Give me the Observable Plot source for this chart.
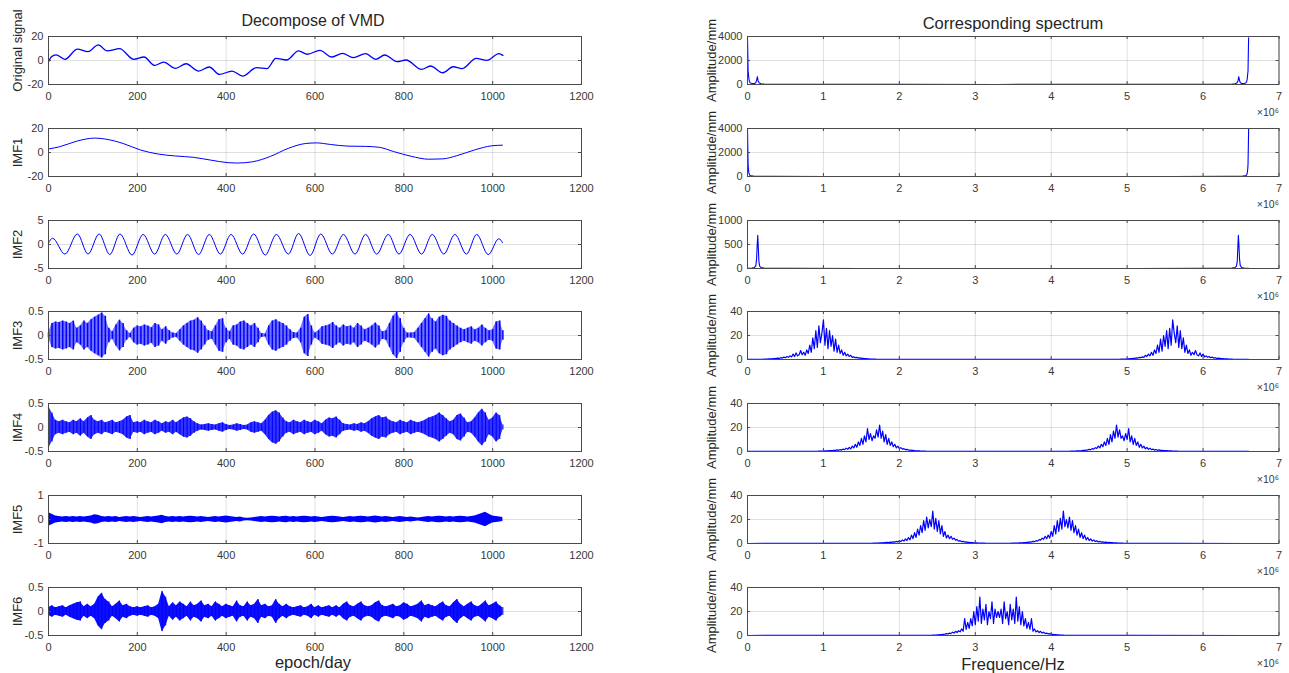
<!DOCTYPE html>
<html>
<head>
<meta charset="utf-8">
<script src="https://cdn.jsdelivr.net/npm/d3@7"></script>
<script src="https://cdn.jsdelivr.net/npm/@observablehq/plot@0.6"></script>
<style>
  body { margin: 0; background: #fff; }
  #fig { position: relative; width: 1289px; height: 673px; overflow: hidden; background: #fff;
         font-family: "Liberation Sans", Arial, Helvetica, sans-serif; color: #262626; }
  #fig svg { position: absolute; background: transparent; overflow: visible; }
  .cap { position: absolute; line-height: 1; white-space: nowrap; transform: translateX(-50%); }
</style>
</head>
<body>
<div id="fig"></div>
<script>
// ---------- time-domain series (epoch in days) ----------
// original signal: turning points of the record
const origDay = [0, 6, 17, 37, 65, 89, 112, 132, 160, 192, 215, 239, 259, 286, 310, 338, 362, 385, 413, 437,
  468, 492, 512, 536, 563, 583, 611, 638, 662, 686, 714, 737, 757, 785, 805, 840, 860, 888, 911, 931,
  963, 987, 1014, 1023];
const origVal = [-1, 2.9, 4.7, 1, 9.4, 7.4, 13, 8, 9.9, 1, 2.9, -4.1, -1.3, -6.6, -2.7, -8.8, -5.4, -11.6, -8.8, -13,
  -6, -6.8, 1.8, 0.4, 8, 5.2, 8.5, 2.9, 6, 2.4, 5.7, 1, 4.6, -1, 0.4, -7.4, -4.6, -10.2, -5.2, -6.8,
  1.8, 0.1, 5.7, 4.3];

// IMF1: slow trend
const imf1Day = [0, 25, 65, 104, 128, 168, 207, 247, 286, 326, 366, 405, 425, 460, 500, 540, 579, 603, 635, 674,
  714, 745, 777, 817, 856, 888, 919, 959, 998, 1022];
const imf1Val = [2.9, 4.8, 9.6, 12.0, 11.2, 7.5, 2.1, -1.3, -2.9, -4.0, -6.4, -8.5, -8.8, -7.7, -3.2, 3.5, 7.5, 8.0, 6.7, 5.3,
  5.1, 4.3, 0.8, -3.2, -5.6, -5.3, -2.7, 2.1, 5.6, 6.1];

// IMF2: ~50-day oscillation, peaks and troughs
const imf2Day = [0, 9, 37, 65, 89, 114, 138, 161, 188, 213, 239, 263, 289, 313, 338, 362, 387, 411, 437, 462,
  488, 513, 540, 563, 589, 613, 639, 664, 690, 714, 739, 765, 789, 814, 840, 864, 890, 915, 941, 964,
  990, 1014, 1022];
const imf2Val = [0.3, 1.3, -2.0, 2.2, -2.0, 2.2, -2.1, 2.2, -2.2, 2.1, -2.0, 2.1, -2.0, 2.1, -2.1, 2.1, -2.0, 2.1, -2.0, 2.2,
  -2.2, 2.1, -2.0, 2.3, -2.3, 2.2, -2.0, 2.1, -2.0, 2.1, -2.0, 2.1, -2.0, 2.1, -2.0, 2.1, -2.0, 2.1, -2.0, 2.1,
  -2.1, 1.2, 0.4];

// IMF3..IMF6: oscillation envelope (half peak-to-peak), one value every ENV_STEP days
const ENV_STEP = 8;
const imf3Env = [
  0.05, 0.25, 0.28, 0.27, 0.3, 0.28, 0.25, 0.3, 0.15, 0.2, 0.3, 0.25, 0.33, 0.38, 0.42, 0.47,
  0.4, 0.15, 0.08, 0.22, 0.32, 0.25, 0.1, 0.04, 0.15, 0.2, 0.18, 0.22, 0.2, 0.16, 0.25, 0.22,
  0.12, 0.18, 0.1, 0.05, 0.04, 0.12, 0.2, 0.25, 0.3, 0.32, 0.37, 0.3, 0.2, 0.1, 0.08, 0.2,
  0.33, 0.35, 0.15, 0.08, 0.2, 0.22, 0.28, 0.3, 0.25, 0.2, 0.25, 0.15, 0.04, 0.03, 0.2, 0.3,
  0.33, 0.28, 0.25, 0.2, 0.12, 0.06, 0.05, 0.15, 0.38, 0.44, 0.2, 0.05, 0.1, 0.18, 0.2, 0.22,
  0.27, 0.2, 0.15, 0.22, 0.18, 0.2, 0.15, 0.25, 0.2, 0.12, 0.15, 0.2, 0.26, 0.2, 0.08, 0.1,
  0.25, 0.4, 0.48, 0.35, 0.15, 0.05, 0.05, 0.06, 0.15, 0.25, 0.35, 0.45, 0.35, 0.28, 0.38, 0.42,
  0.4, 0.3, 0.25, 0.2, 0.15, 0.12, 0.15, 0.18, 0.12, 0.15, 0.22, 0.15, 0.1, 0.12, 0.28, 0.3,
  0.1];
const imf4Env = [
  0.45, 0.3, 0.15, 0.12, 0.15, 0.12, 0.1, 0.15, 0.12, 0.18, 0.12, 0.2, 0.25, 0.15, 0.12, 0.15,
  0.1, 0.12, 0.15, 0.1, 0.12, 0.15, 0.22, 0.25, 0.1, 0.12, 0.1, 0.15, 0.12, 0.1, 0.15, 0.12,
  0.08, 0.12, 0.1, 0.15, 0.1, 0.15, 0.2, 0.22, 0.18, 0.12, 0.08, 0.05, 0.06, 0.08, 0.06, 0.05,
  0.08, 0.1, 0.06, 0.04, 0.05, 0.08, 0.06, 0.04, 0.05, 0.1, 0.12, 0.1, 0.08, 0.15, 0.25, 0.32,
  0.35, 0.3, 0.2, 0.12, 0.1, 0.15, 0.12, 0.1, 0.15, 0.12, 0.1, 0.15, 0.12, 0.08, 0.15, 0.2,
  0.18, 0.22, 0.15, 0.08, 0.06, 0.05, 0.08, 0.06, 0.1, 0.08, 0.12, 0.18, 0.22, 0.25, 0.2, 0.22,
  0.15, 0.12, 0.1, 0.15, 0.12, 0.1, 0.15, 0.12, 0.1, 0.12, 0.15, 0.2, 0.22, 0.25, 0.3, 0.25,
  0.18, 0.12, 0.15, 0.25, 0.28, 0.2, 0.1, 0.12, 0.2, 0.3, 0.38, 0.3, 0.15, 0.2, 0.3, 0.25,
  0.05];
const imf5Env = [
  0.28, 0.22, 0.15, 0.12, 0.1, 0.12, 0.1, 0.12, 0.1, 0.13, 0.1, 0.12, 0.15, 0.2, 0.18, 0.12,
  0.1, 0.12, 0.1, 0.12, 0.08, 0.1, 0.12, 0.1, 0.12, 0.1, 0.08, 0.1, 0.12, 0.1, 0.12, 0.15,
  0.18, 0.12, 0.1, 0.12, 0.1, 0.12, 0.1, 0.12, 0.14, 0.12, 0.1, 0.12, 0.1, 0.08, 0.1, 0.12,
  0.1, 0.12, 0.15, 0.12, 0.1, 0.08, 0.1, 0.06, 0.05, 0.06, 0.08, 0.1, 0.12, 0.1, 0.12, 0.14,
  0.12, 0.1, 0.12, 0.14, 0.1, 0.12, 0.1, 0.12, 0.14, 0.12, 0.1, 0.12, 0.1, 0.08, 0.1, 0.12,
  0.14, 0.12, 0.1, 0.08, 0.1, 0.12, 0.1, 0.12, 0.14, 0.12, 0.1, 0.12, 0.15, 0.12, 0.1, 0.12,
  0.1, 0.08, 0.1, 0.12, 0.1, 0.08, 0.1, 0.08, 0.06, 0.08, 0.1, 0.12, 0.1, 0.12, 0.14, 0.12,
  0.1, 0.12, 0.1, 0.12, 0.14, 0.12, 0.1, 0.12, 0.15, 0.2, 0.25, 0.3, 0.22, 0.15, 0.12, 0.1,
  0.08];
const imf6Env = [
  0.08, 0.12, 0.08, 0.1, 0.12, 0.08, 0.12, 0.15, 0.18, 0.2, 0.1, 0.15, 0.1, 0.15, 0.3, 0.38,
  0.25, 0.2, 0.1, 0.15, 0.22, 0.12, 0.15, 0.1, 0.08, 0.1, 0.08, 0.1, 0.12, 0.08, 0.1, 0.15,
  0.42, 0.3, 0.1, 0.18, 0.12, 0.2, 0.15, 0.1, 0.2, 0.12, 0.15, 0.22, 0.12, 0.15, 0.1, 0.2,
  0.15, 0.1, 0.15, 0.12, 0.1, 0.22, 0.12, 0.1, 0.2, 0.12, 0.15, 0.25, 0.12, 0.15, 0.1, 0.12,
  0.25, 0.15, 0.1, 0.15, 0.1, 0.08, 0.1, 0.12, 0.08, 0.1, 0.15, 0.08, 0.12, 0.08, 0.1, 0.12,
  0.08, 0.12, 0.08, 0.15, 0.2, 0.12, 0.1, 0.15, 0.2, 0.12, 0.1, 0.12, 0.18, 0.22, 0.12, 0.1,
  0.12, 0.15, 0.1, 0.12, 0.18, 0.15, 0.1, 0.12, 0.15, 0.22, 0.12, 0.15, 0.12, 0.1, 0.15, 0.2,
  0.12, 0.1, 0.18, 0.25, 0.15, 0.1, 0.15, 0.2, 0.12, 0.1, 0.15, 0.22, 0.12, 0.15, 0.2, 0.12,
  0.08];

// ---------- spectra (frequency in units of 1e6 Hz) ----------
// two-sided amplitude spectrum; the upper half mirrors the lower half about FS/2
const FS = 6.6;
const spec0F = [0, 0.004, 0.008, 0.012, 0.018, 0.025, 0.035, 0.05, 0.07, 0.09, 0.11, 0.12, 0.13, 0.14, 0.155, 0.18, 0.22, 0.3, 0.5, 1.0, 2.0, 3.3];
const spec0A = [3900, 2600, 1100, 900, 500, 250, 150, 100, 70, 80, 150, 350, 650, 300, 120, 60, 40, 25, 15, 10, 8, 6];
const spec1F = [0, 0.004, 0.008, 0.012, 0.018, 0.025, 0.035, 0.05, 0.08, 0.15, 0.3, 1.0, 3.3];
const spec1A = [3950, 2400, 1000, 600, 300, 150, 80, 50, 30, 15, 8, 4, 2];
const spec2F = [0, 0.03, 0.06, 0.09, 0.11, 0.12, 0.128, 0.135, 0.142, 0.15, 0.16, 0.18, 0.22, 0.3, 0.6, 1.5, 3.3];
const spec2A = [2, 4, 8, 20, 60, 200, 500, 690, 450, 150, 50, 20, 8, 4, 2, 1, 0.5];

// narrow-band spectra: densely sampled hump (BAND_STEP apart) plus quiet floor around it
const BAND_STEP = 0.02;
const spec3Lead = [[0, 0.05], [0.1, 0.1]], spec3Start = 0.2, spec3Trail = [[2.5, 0.05], [3.3, 0.03]];
const spec3Band = [
  0.2, 0.3, 0.3, 0.4, 0.5, 0.6, 0.5, 0.8, 0.7, 1.0,
  1.2, 0.9, 1.5, 1.2, 2.0, 1.5, 2.5, 1.8, 3.0, 2.2,
  4.5, 2.5, 5.5, 3.0, 4.0, 7.5, 4.0, 6.0, 3.5, 8.0,
  5.0, 12, 6, 18, 9, 24, 10, 28, 14, 22,
  33, 12, 26, 9, 24, 11, 20, 7, 17, 6,
  12, 5, 8, 3.5, 6, 3, 4.5, 2.5, 3.5, 1.8,
  2.2, 1.5, 1.8, 1.2, 1.3, 1.0, 1.0, 0.8, 0.7, 0.6,
  0.5, 0.4, 0.4, 0.3, 0.3, 0.2, 0.2, 0.2, 0.1, 0.1,
  0.1];
const spec4Lead = [[0, 0.03], [0.5, 0.1]], spec4Start = 0.9, spec4Trail = [[3.0, 0.05], [3.3, 0.03]];
const spec4Band = [
  0.2, 0.2, 0.3, 0.3, 0.4, 0.4, 0.5, 0.5, 0.6, 0.7,
  0.8, 0.7, 1.0, 0.9, 1.3, 1.0, 1.6, 1.2, 2.0, 1.5,
  2.8, 1.8, 3.5, 2.2, 4.5, 3.0, 6.0, 3.5, 8.0, 5.0,
  11, 6, 13, 8, 19, 10, 15, 9, 13, 11,
  18, 12, 22, 11, 17, 8, 14, 6, 11, 5,
  8, 4, 6, 3, 4.5, 2.5, 3.2, 2.0, 2.4, 1.5,
  1.8, 1.2, 1.2, 0.9, 0.9, 0.7, 0.6, 0.5, 0.5, 0.4,
  0.3, 0.3, 0.3, 0.2, 0.2, 0.2, 0.1, 0.1, 0.1, 0.1,
  0.1];
const spec5Lead = [[0, 0.02], [1.0, 0.05]], spec5Start = 1.6, spec5Trail = [[3.3, 0.2]];
const spec5Band = [
  0.1, 0.2, 0.2, 0.3, 0.3, 0.4, 0.4, 0.5, 0.5, 0.6,
  0.7, 0.7, 0.9, 0.8, 1.1, 1.0, 1.4, 1.1, 1.8, 1.3,
  2.2, 1.6, 3.0, 2.0, 3.8, 2.5, 5.0, 3.0, 7.0, 4.0,
  9, 5, 12, 7, 15, 9, 19, 11, 22, 13,
  20, 14, 27, 12, 21, 10, 19, 8, 15, 6,
  10, 4.5, 7, 4, 6, 3.5, 4.5, 2.8, 3.2, 2.0,
  2.4, 1.5, 1.8, 1.2, 1.3, 1.0, 1.0, 0.8, 0.7, 0.6,
  0.5, 0.5, 0.4, 0.4, 0.3, 0.3, 0.3, 0.2, 0.2, 0.2,
  0.2];
const spec6Lead = [[0, 0.02], [1.5, 0.05], [2.0, 0.1]], spec6Start = 2.4, spec6Trail = [];
const spec6Band = [
  0.2, 0.2, 0.3, 0.3, 0.4, 0.5, 0.6, 0.7, 0.8, 1.0,
  1.2, 1.5, 1.3, 2.0, 1.6, 2.8, 2.0, 3.5, 2.5, 4.0,
  3.0, 5.5, 3.5, 14, 5, 11, 6, 14, 8, 20,
  9, 24, 12, 32, 10, 22, 13, 26, 9, 20,
  14, 28, 10, 22, 15, 20];

// ---------- helpers ----------
const BLUE = "#0000ff";
const AXIS = "#4a4a4a";

const pairs = (xs, ys) => xs.map((x, i) => ({x, y: ys[i]}));
const envelope = (env) => env.map((a, i) => ({x: Math.min(i * ENV_STEP, 1023), a}));
const halfSpectrum = (lead, start, band, trail) => [
  ...lead.map(([x, y]) => ({x, y})),
  ...band.map((y, i) => ({x: +(start + i * BAND_STEP).toFixed(3), y})),
  ...trail.map(([x, y]) => ({x, y}))
];
const mirrored = (half) => half.concat(
  half.filter(p => p.x < FS / 2 - 1e-9).map(p => ({x: FS - p.x, y: p.y})).reverse()
);

const fig = document.getElementById("fig");
const FH = 48, MT = 4, MB = 36;
const ROW0 = 36, PITCH = 91.83;

function panel({left, top, width, ml, mr, xDomain, xTicks, yDomain, yTicks, ylabel, labelGap, labelDy = 0, exponent, marks}) {
  const fw = width - ml - mr;
  const fmt = d => String(d);
  const chart = Plot.plot({
    width, height: FH + MT + MB,
    marginTop: MT, marginBottom: MB, marginLeft: ml, marginRight: mr,
    x: {domain: xDomain},
    y: {domain: yDomain},
    style: {fontFamily: "Liberation Sans, Arial, Helvetica, sans-serif", fontSize: "11px", color: "#383838", background: "transparent", overflow: "visible"},
    marks: [
      Plot.gridX(xTicks, {x: d => d, stroke: "#000", strokeOpacity: 0.12}),
      Plot.gridY(yTicks, {y: d => d, stroke: "#000", strokeOpacity: 0.12}),
      ...marks,
      Plot.frame({stroke: AXIS}),
      // inward tick marks on all four sides
      Plot.tickX(xTicks, {x: d => d, insetTop: FH - 3, stroke: AXIS}),
      Plot.tickX(xTicks, {x: d => d, insetBottom: FH - 3, stroke: AXIS}),
      Plot.tickY(yTicks, {y: d => d, insetRight: fw - 3, stroke: AXIS}),
      Plot.tickY(yTicks, {y: d => d, insetLeft: fw - 3, stroke: AXIS}),
      Plot.axisX({ticks: xTicks, tickSize: 0, tickPadding: 8, tickFormat: fmt, label: null}),
      Plot.axisY({ticks: yTicks, tickSize: 0, tickPadding: 5, tickFormat: fmt, label: null}),
      Plot.text([ylabel], {text: d => d, frameAnchor: "left", textAnchor: "middle", dx: -labelGap, dy: labelDy, rotate: -90, fontSize: 13, fill: "#262626"}),
      exponent ? Plot.text(["×10⁶"], {text: d => d, frameAnchor: "bottom-right", lineAnchor: "middle", dy: 28, textAnchor: "end", fontSize: 10.5, fill: "#383838"}) : null
    ]
  });
  chart.style.left = left + "px";
  chart.style.top = top + "px";
  fig.append(chart);
}

// ---------- left column: decomposition ----------
const dayTicks = [0, 200, 400, 600, 800, 1000, 1200];
const dense = (env, areaOpacity, ruleWidth) => {
  const data = envelope(env);
  const m = [Plot.areaY(data, {x: "x", y1: d => -d.a, y2: "a", fill: BLUE, fillOpacity: areaOpacity})];
  if (ruleWidth) m.push(Plot.ruleX(data, {x: "x", y1: d => -d.a, y2: "a", stroke: BLUE, strokeWidth: ruleWidth}));
  return m;
};
const leftRows = [
  {ylabel: "Original signal", labelDy: -10, yDomain: [-20, 20], yTicks: [-20, 0, 20],
   marks: [Plot.line(pairs(origDay, origVal), {x: "x", y: "y", stroke: BLUE, strokeWidth: 1.3, curve: "monotone-x"})]},
  {ylabel: "IMF1", yDomain: [-20, 20], yTicks: [-20, 0, 20],
   marks: [Plot.line(pairs(imf1Day, imf1Val), {x: "x", y: "y", stroke: BLUE, strokeWidth: 1, curve: "monotone-x"})]},
  {ylabel: "IMF2", yDomain: [-5, 5], yTicks: [-5, 0, 5],
   marks: [Plot.line(pairs(imf2Day, imf2Val), {x: "x", y: "y", stroke: BLUE, strokeWidth: 1, curve: "monotone-x"})]},
  {ylabel: "IMF3", yDomain: [-0.5, 0.5], yTicks: [-0.5, 0, 0.5], marks: dense(imf3Env, 0.55, 1.5)},
  {ylabel: "IMF4", yDomain: [-0.5, 0.5], yTicks: [-0.5, 0, 0.5], marks: dense(imf4Env, 0.8, 1.1)},
  {ylabel: "IMF5", yDomain: [-1, 1], yTicks: [-1, 0, 1], marks: dense(imf5Env, 1, 0)},
  {ylabel: "IMF6", yDomain: [-0.5, 0.5], yTicks: [-0.5, 0, 0.5], marks: dense(imf6Env, 0.95, 1)}
];
leftRows.forEach((r, i) => panel({
  left: 0, top: ROW0 + i * PITCH - MT, width: 600, ml: 48, mr: 19,
  xDomain: [0, 1200], xTicks: dayTicks, labelGap: 31, ...r
}));

// ---------- right column: spectra ----------
const freqTicks = [0, 1, 2, 3, 4, 5, 6, 7];
const specLine = (pts, w = 1.2) => [Plot.line(pts, {x: "x", y: "y", stroke: BLUE, strokeWidth: w})];
const rightRows = [
  {yDomain: [0, 4000], yTicks: [0, 2000, 4000], marks: specLine(mirrored(pairs(spec0F, spec0A)), 1.1)},
  {yDomain: [0, 4000], yTicks: [0, 2000, 4000], marks: specLine(mirrored(pairs(spec1F, spec1A)), 1.1)},
  {yDomain: [0, 1000], yTicks: [0, 500, 1000], marks: specLine(mirrored(pairs(spec2F, spec2A)), 1.1)},
  {yDomain: [0, 40], yTicks: [0, 20, 40], marks: specLine(mirrored(halfSpectrum(spec3Lead, spec3Start, spec3Band, spec3Trail)))},
  {yDomain: [0, 40], yTicks: [0, 20, 40], marks: specLine(mirrored(halfSpectrum(spec4Lead, spec4Start, spec4Band, spec4Trail)))},
  {yDomain: [0, 40], yTicks: [0, 20, 40], marks: specLine(mirrored(halfSpectrum(spec5Lead, spec5Start, spec5Band, spec5Trail)))},
  {yDomain: [0, 40], yTicks: [0, 20, 40], marks: specLine(mirrored(halfSpectrum(spec6Lead, spec6Start, spec6Band, spec6Trail)))}
];
rightRows.forEach((r, i) => panel({
  left: 680, top: ROW0 + i * PITCH - MT, width: 620, ml: 67, mr: 21.5,
  xDomain: [0, 7], xTicks: freqTicks, ylabel: "Amplitude/mm", labelGap: 36, exponent: true, ...r
}));

// ---------- titles and axis names ----------
function caption(text, cx, top, size) {
  const d = document.createElement("div");
  d.className = "cap";
  d.textContent = text;
  d.style.left = cx + "px";
  d.style.top = top + "px";
  d.style.fontSize = size + "px";
  fig.append(d);
}
caption("Decompose of VMD", 313, 13, 16);
caption("Corresponding spectrum", 1013, 15, 16.5);
caption("epoch/day", 313, 654, 16.5);
caption("Frequence/Hz", 1013, 656, 16.5);
</script>
</body>
</html>
